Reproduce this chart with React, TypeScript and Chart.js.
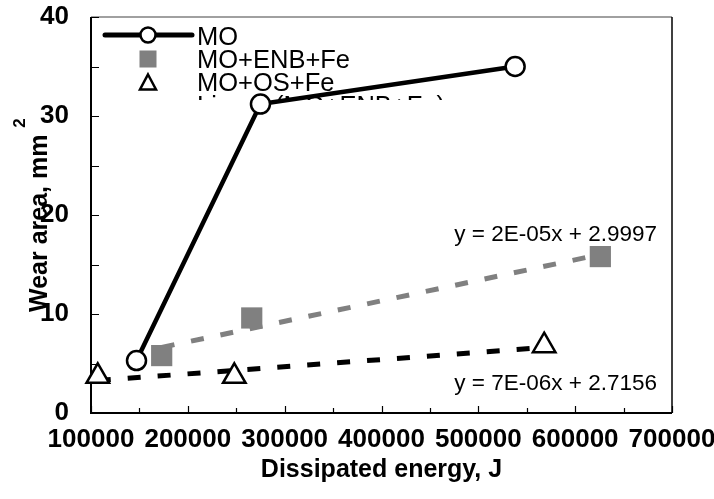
import React, { useEffect, useRef } from "react";
import { Chart, registerables } from "chart.js";

Chart.register(...registerables);

// ---- data ----
const moEnergy = [147000, 275000, 538000];
const moWear = [5.3, 31.2, 35.0];
const enbEnergy = [173000, 266000, 626000];
const enbWear = [5.8, 9.6, 15.8];
const osEnergy = [107000, 248000, 568000];
const osWear = [3.7, 3.7, 6.8];

const legendLabels = ["MO", "MO+ENB+Fe", "MO+OS+Fe", "Linear (MO+ENB+Fe)"];
const equationLabels = ["y = 2E-05x + 2.9997", "y = 7E-06x + 2.7156"];
const xTitle = "Dissipated energy, J";
const yTitle = "Wear area, mm";
const yTitleSup = "2";

const xMin = 100000;
const xMax = 700000;
const xStep = 100000;
const xMinorStep = 50000;
const yMin = 0;
const yMax = 40;
const yStep = 10;
const yMinorStep = 5;

const FONT = "'Liberation Sans', Arial, sans-serif";
const GRAY = "#808080";

function linReg(xs: number[], ys: number[]) {
  const n = xs.length;
  const mx = xs.reduce((a, b) => a + b, 0) / n;
  const my = ys.reduce((a, b) => a + b, 0) / n;
  let sxy = 0;
  let sxx = 0;
  for (let i = 0; i < n; i++) {
    sxy += (xs[i] - mx) * (ys[i] - my);
    sxx += (xs[i] - mx) * (xs[i] - mx);
  }
  const m = sxy / sxx;
  const b = my - m * mx;
  const lo = Math.min(...xs);
  const hi = Math.max(...xs);
  return [
    { x: lo, y: m * lo + b },
    { x: hi, y: m * hi + b },
  ];
}

const pts = (xs: number[], ys: number[]) => xs.map((x, i) => ({ x, y: ys[i] }));

const framePlugin = {
  id: "frameAndDecor",
  beforeDatasetsDraw(chart: any) {
    const { ctx, chartArea: a, scales } = chart;
    const xs = scales.x;
    const ys = scales.y;
    ctx.save();
    // frame
    ctx.lineCap = "butt";
    ctx.strokeStyle = GRAY;
    ctx.lineWidth = 1.5;
    ctx.beginPath();
    ctx.moveTo(a.left, a.top);
    ctx.lineTo(a.right, a.top);
    ctx.stroke();
    ctx.strokeStyle = "#000";
    ctx.beginPath();
    ctx.moveTo(a.right, a.top);
    ctx.lineTo(a.right, a.bottom);
    ctx.stroke();
    ctx.lineWidth = 2;
    ctx.beginPath();
    ctx.moveTo(a.left, a.top);
    ctx.lineTo(a.left, a.bottom);
    ctx.lineTo(a.right, a.bottom);
    ctx.stroke();
    // inward ticks
    ctx.lineWidth = 1.2;
    ctx.beginPath();
    for (let v = xMin; v <= xMax; v += xMinorStep) {
      const px = Math.round(xs.getPixelForValue(v)) + 0.5;
      const len = v % xStep === 0 ? 7 : 5;
      ctx.moveTo(px, a.bottom);
      ctx.lineTo(px, a.bottom - len);
    }
    for (let v = yMin; v <= yMax; v += yMinorStep) {
      const py = Math.round(ys.getPixelForValue(v)) + 0.5;
      ctx.moveTo(a.left, py);
      ctx.lineTo(a.left + 8, py);
    }
    ctx.stroke();

    // axis titles
    ctx.fillStyle = "#000";
    ctx.font = `bold 25px ${FONT}`;
    ctx.textAlign = "center";
    ctx.textBaseline = "alphabetic";
    ctx.fillText(xTitle, (a.left + a.right) / 2, 477);

    ctx.save();
    ctx.translate(47, 312);
    ctx.rotate(-Math.PI / 2);
    ctx.textAlign = "left";
    ctx.font = `bold 25px ${FONT}`;
    ctx.fillText(yTitle, 0, 0);
    const w = ctx.measureText(yTitle + " ").width;
    ctx.font = `bold 17px ${FONT}`;
    ctx.fillText(yTitleSup, w, -22);
    ctx.restore();

    // equations
    ctx.font = `22.5px ${FONT}`;
    ctx.textAlign = "right";
    ctx.fillText(equationLabels[0], 657, 241);
    ctx.fillText(equationLabels[1], 657, 390);

    // legend
    const sx = 148;
    const tx = 197;
    const rows = [35, 59, 82, 105];
    const base = [45, 68.3, 90.7, 114];
    ctx.strokeStyle = "#000";
    ctx.lineWidth = 5;
    ctx.lineCap = "round";
    ctx.beginPath();
    ctx.moveTo(105, rows[0]);
    ctx.lineTo(192, rows[0]);
    ctx.stroke();
    ctx.lineCap = "butt";
    ctx.lineWidth = 2.5;
    ctx.fillStyle = "#fff";
    ctx.beginPath();
    ctx.arc(sx, rows[0], 7.5, 0, Math.PI * 2);
    ctx.fill();
    ctx.stroke();
    ctx.fillStyle = GRAY;
    ctx.fillRect(sx - 8.5, rows[1] - 8.5, 17, 17);
    ctx.fillStyle = "#fff";
    ctx.beginPath();
    ctx.moveTo(sx, rows[2] - 7.5);
    ctx.lineTo(sx + 8, rows[2] + 7.5);
    ctx.lineTo(sx - 8, rows[2] + 7.5);
    ctx.closePath();
    ctx.fill();
    ctx.stroke();
    ctx.fillStyle = "#000";
    ctx.font = `25.5px ${FONT}`;
    ctx.textAlign = "left";
    ctx.textBaseline = "alphabetic";
    for (let i = 0; i < 3; i++) ctx.fillText(legendLabels[i], tx, base[i]);
    ctx.save();
    ctx.beginPath();
    ctx.rect(a.left + 2, a.top, 400, 100 - a.top);
    ctx.clip();
    ctx.fillText(legendLabels[3], tx, base[3]);
    ctx.restore();

    ctx.restore();
  },
};

export default function App() {
  const ref = useRef<HTMLCanvasElement>(null);
  useEffect(() => {
    if (!ref.current) return;
    const chart = new Chart(ref.current, {
      type: "scatter",
      data: {
        datasets: [
          {
            label: legendLabels[0],
            data: pts(moEnergy, moWear),
            showLine: true,
            borderColor: "#000",
            borderWidth: 4.5,
            pointRadius: 9.5,
            pointBorderWidth: 2.5,
            pointBackgroundColor: "#fff",
            pointBorderColor: "#000",
            clip: false,
            order: 0,
          } as any,
          {
            label: legendLabels[1],
            data: pts(enbEnergy, enbWear),
            showLine: false,
            pointStyle: "rect",
            pointRadius: 15,
            pointBorderWidth: 0,
            pointBackgroundColor: GRAY,
            pointBorderColor: GRAY,
            clip: false,
            order: 0,
          } as any,
          {
            label: legendLabels[2],
            data: pts(osEnergy, osWear),
            showLine: false,
            pointStyle: "triangle",
            pointRadius: 13,
            pointBorderWidth: 2.5,
            pointBackgroundColor: "#fff",
            pointBorderColor: "#000",
            clip: false,
            order: 0,
          } as any,
          {
            label: legendLabels[3],
            data: linReg(enbEnergy, enbWear),
            showLine: true,
            borderColor: GRAY,
            borderWidth: 5,
            borderDash: [13, 17],
            pointRadius: 0,
            clip: false,
            order: 2,
          } as any,
          {
            label: "Linear (MO+OS+Fe)",
            data: linReg(osEnergy, osWear),
            showLine: true,
            borderColor: "#000",
            borderWidth: 5,
            borderDash: [13, 17],
            pointRadius: 0,
            clip: false,
            order: 2,
          } as any,
        ],
      },
      options: {
        responsive: false,
        animation: false,
        devicePixelRatio: 1,
        events: [],
        layout: { padding: { left: 0, right: 42, top: 17, bottom: 0 } },
        plugins: { legend: { display: false }, tooltip: { enabled: false } },
        scales: {
          x: {
            type: "linear",
            min: xMin,
            max: xMax,
            grid: { display: false, drawTicks: false },
            border: { display: false },
            ticks: {
              stepSize: xStep,
              autoSkip: false,
              maxRotation: 0,
              padding: 11,
              color: "#000",
              font: { family: FONT, size: 26, weight: "bold" },
              callback: (v: any) => String(v),
            },
            afterFit: (s: any) => {
              s.height = 499 - 413;
              s.paddingLeft = 0;
              s.paddingRight = 0;
            },
          },
          y: {
            type: "linear",
            min: yMin,
            max: yMax,
            grid: { display: false, drawTicks: false },
            border: { display: false },
            ticks: {
              stepSize: yStep,
              padding: 22,
              color: "#000",
              font: { family: FONT, size: 26, weight: "bold" },
              callback: (v: any) => String(v),
            },
            afterFit: (s: any) => {
              s.width = 91;
              s.paddingTop = 0;
              s.paddingBottom = 0;
            },
          },
        },
      } as any,
      plugins: [framePlugin],
    });
    return () => chart.destroy();
  }, []);
  return (
    <div style={{ position: "fixed", left: 0, top: 0, width: 714, height: 499, background: "#fff" }}>
      <canvas ref={ref} width={714} height={499} style={{ display: "block" }} />
    </div>
  );
}
